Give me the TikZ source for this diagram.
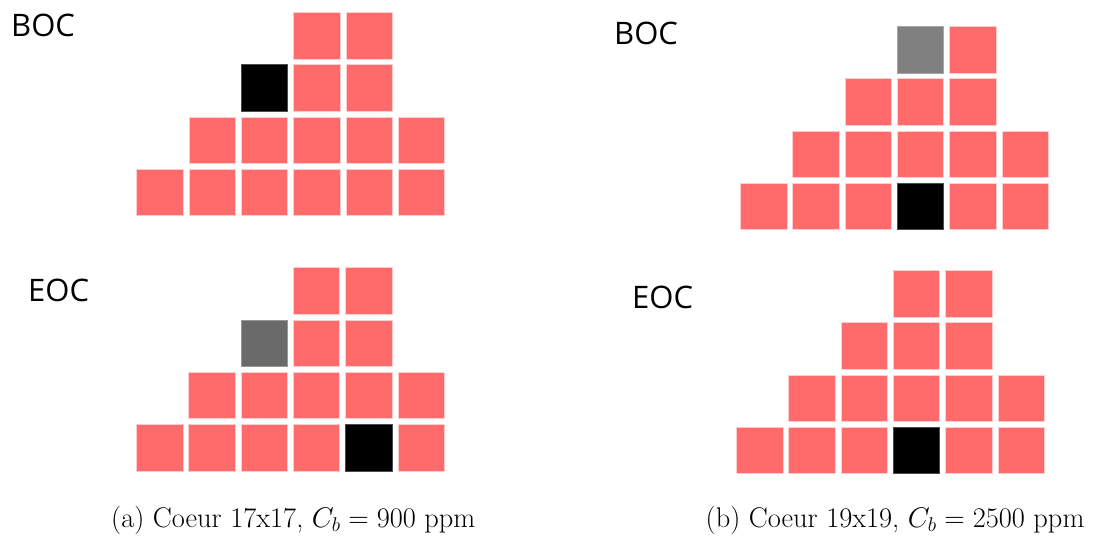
\RequirePackage{fix-cm}
\documentclass[tikz,border=0pt]{standalone}
\usepackage{fontspec}
\newfontfamily\labfont{Open Sans}
\definecolor{fuel}{RGB}{255,106,106}
\definecolor{fuelline}{RGB}{255,205,205}
\definecolor{greyA}{RGB}{106,106,106}
\definecolor{greyB}{RGB}{128,128,128}
\begin{document}
\begin{tikzpicture}[x=1pt,y=-1pt,
  cell/.style={draw=fuelline, line width=0.7pt, fill=fuel, minimum size=46.5pt, inner sep=0pt, anchor=north west},
  blackcell/.style={cell, fill=black, draw=black!70},
  greyAcell/.style={cell, fill=greyA, draw=greyA!70},
  greyBcell/.style={cell, fill=greyB, draw=greyB!70},
  tag/.style={font=\labfont\fontsize{31}{36}\selectfont, anchor=west, inner sep=0pt},
  caption/.style={font=\fontsize{28.4}{33}\selectfont, inner sep=0pt, anchor=base west}]
\useasboundingbox (0,0) rectangle (1093,536);

% ---- (a) BOC ----
\node[tag] (aBOC) at (11,25) {BOC};
\foreach \r/\c in {0/3,0/4,1/3,1/4,2/1,2/2,2/3,2/4,2/5,3/0,3/1,3/2,3/3,3/4,3/5}
  \node[cell] (aB-\r-\c) at ({136.3+52.3*\c},{12+52.3*\r}) {};
\node[blackcell] (aB-1-2) at ({136.3+52.3*2},{12+52.3*1}) {};

% ---- (a) EOC ----
\node[tag] (aEOC) at (28,290) {EOC};
\foreach \r/\c in {0/3,0/4,1/3,1/4,2/1,2/2,2/3,2/4,2/5,3/0,3/1,3/2,3/3,3/5}
  \node[cell] (aE-\r-\c) at ({136+52.3*\c},{267.3+52.3*\r}) {};
\node[greyAcell] (aE-1-2) at ({136+52.3*2},{267.3+52.3*1}) {};
\node[blackcell] (aE-3-4) at ({136+52.3*4},{267.3+52.3*3}) {};

% ---- (b) BOC ----
\node[tag] (bBOC) at (614,33.5) {BOC};
\foreach \r/\c in {0/4,1/2,1/3,1/4,2/1,2/2,2/3,2/4,2/5,3/0,3/1,3/2,3/4,3/5}
  \node[cell] (bB-\r-\c) at ({740+52.3*\c},{26+52.3*\r}) {};
\node[greyBcell] (bB-0-3) at ({740+52.3*3},{26}) {};
\node[blackcell] (bB-3-3) at ({740+52.3*3},{26+52.3*3}) {};

% ---- (b) EOC ----
\node[tag] (bEOC) at (632,297.5) {EOC};
\foreach \r/\c in {0/3,0/4,1/2,1/3,1/4,2/1,2/2,2/3,2/4,2/5,3/0,3/1,3/2,3/4,3/5}
  \node[cell] (bE-\r-\c) at ({736+52.3*\c},{270+52.3*\r}) {};
\node[blackcell] (bE-3-3) at ({736+52.3*3},{270+52.3*3}) {};

% ---- captions ----
\node[caption] (capA) at (111,527.5) {(a) Coeur 17x17, $C_b = 900$ ppm};
\node[caption] (capB) at (705.5,527.5) {(b) Coeur 19x19, $C_b = 2500$ ppm};
\end{tikzpicture}
\end{document}
